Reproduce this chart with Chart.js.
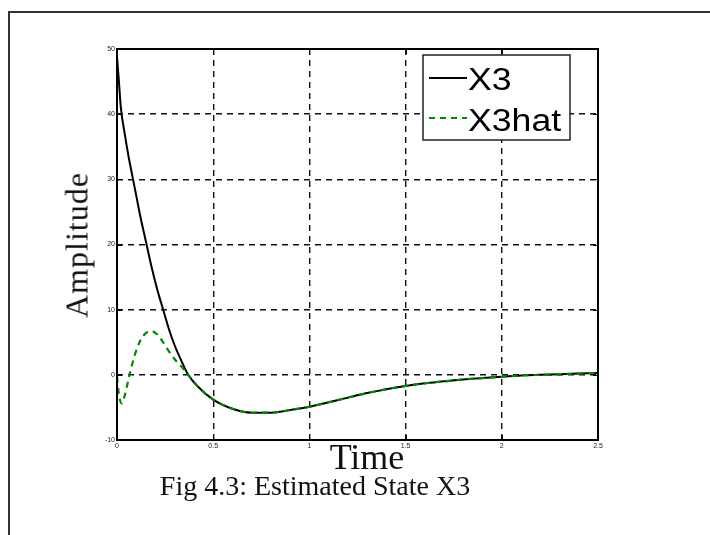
<!DOCTYPE html>
<html>
<head>
<meta charset="utf-8">
<script src="https://cdn.jsdelivr.net/npm/chart.js@4/dist/chart.umd.min.js"></script>
<style>
  html, body { margin: 0; padding: 0; background: #fff; }
  #wrap { position: relative; width: 710px; height: 535px; overflow: hidden; background: #fff; }
  #frame { position: absolute; left: 8px; top: 11px; width: 720px; height: 540px;
           border-left: 2px solid #333; border-top: 2px solid #333; }
  canvas { position: absolute; left: 0; top: 0; }
  .txt { position: absolute; font-family: "Liberation Serif", "Times New Roman", serif; color: #111; white-space: nowrap; }
  #ylab { font-size: 32px; letter-spacing: 1px; left: 77px; top: 245px; transform: translate(-50%, -50%) rotate(-90deg); }
  #xlab { font-size: 36px; left: 367px; top: 457px; transform: translate(-50%, -50%); }
  #cap { font-size: 28px; left: 315px; top: 486px; transform: translate(-50%, -50%); }
</style>
</head>
<body>
<div id="wrap">
  <div id="frame"></div>
  <canvas id="c" width="710" height="535"></canvas>
  <div class="txt" id="ylab">Amplitude</div>
  <div class="txt" id="xlab">Time</div>
  <div class="txt" id="cap">Fig 4.3: Estimated State X3</div>
</div>
<script>
// ---- data ----
const seriesLabels = ["X3", "X3hat"];
const timeX3 = [0, 0.01, 0.02, 0.04, 0.06, 0.08, 0.1, 0.12, 0.15, 0.18, 0.21, 0.24, 0.27, 0.3, 0.34, 0.37, 0.42, 0.5, 0.6, 0.7, 0.8, 0.9, 1.0, 1.1, 1.2, 1.3, 1.4, 1.5, 1.6, 1.7, 1.8, 1.9, 2.0, 2.1, 2.2, 2.3, 2.4, 2.5];
const valuesX3 = [48.8, 45, 41, 37, 33.5, 30.5, 27.5, 24.5, 20.5, 16.5, 13, 10, 7, 4.5, 1.8, 0, -1.8, -3.8, -5.2, -5.8, -5.8, -5.4, -4.9, -4.2, -3.5, -2.8, -2.2, -1.7, -1.3, -1.0, -0.7, -0.5, -0.3, -0.1, 0.0, 0.1, 0.2, 0.3];
const timeX3hat = [0, 0.01, 0.025, 0.04, 0.065, 0.09, 0.12, 0.15, 0.18, 0.21, 0.24, 0.27, 0.3, 0.34, 0.37, 0.42, 0.5, 0.6, 0.7, 0.8, 0.9, 1.0, 1.1, 1.2, 1.3, 1.4, 1.5, 1.6, 1.7, 1.8, 1.9, 2.0, 2.1, 2.2, 2.3, 2.4, 2.5];
const valuesX3hat = [-0.3, -3, -4.4, -3.2, 0, 2.8, 5.2, 6.4, 6.7, 6.2, 5, 3.6, 2.4, 1.1, 0, -1.8, -3.8, -5.2, -5.8, -5.8, -5.4, -4.9, -4.2, -3.5, -2.8, -2.2, -1.7, -1.3, -1.0, -0.7, -0.5, -0.3, -0.1, 0.0, 0.1, 0.2, 0.3];
const xTicks = [0, 0.5, 1, 1.5, 2, 2.5];
const xTickLabels = ["0", "0.5", "1", "1.5", "2", "2.5"];
const yTicks = [-10, 0, 10, 20, 30, 40, 50];
const yTickLabels = ["-10", "0", "10", "20", "30", "40", "50"];

const toPts = (xs, ys) => xs.map((x, i) => ({ x: x, y: ys[i] }));

// frame + inward ticks + legend
const framePlugin = {
  id: 'framePlugin',
  afterDatasetsDraw(chart) {
    const { ctx, chartArea: a, scales } = chart;
    ctx.save();
    ctx.strokeStyle = '#000';
    ctx.lineWidth = 1;
    ctx.setLineDash([]);
    xTicks.forEach(v => {
      const px = Math.round(scales.x.getPixelForValue(v)) + 0.5;
      ctx.beginPath(); ctx.moveTo(px, a.bottom); ctx.lineTo(px, a.bottom - 5); ctx.stroke();
      ctx.beginPath(); ctx.moveTo(px, a.top); ctx.lineTo(px, a.top + 5); ctx.stroke();
    });
    yTicks.forEach(v => {
      const py = Math.round(scales.y.getPixelForValue(v)) + 0.5;
      ctx.beginPath(); ctx.moveTo(a.left, py); ctx.lineTo(a.left + 5, py); ctx.stroke();
      ctx.beginPath(); ctx.moveTo(a.right, py); ctx.lineTo(a.right - 5, py); ctx.stroke();
    });
    ctx.lineWidth = 2;
    ctx.strokeRect(a.left, a.top, a.right - a.left, a.bottom - a.top);

    // legend box
    const bx = 423, by = 55, bw = 147, bh = 85;
    ctx.fillStyle = '#fff';
    ctx.fillRect(bx, by, bw, bh);
    ctx.lineWidth = 1.5;
    ctx.strokeStyle = '#222';
    ctx.strokeRect(bx, by, bw, bh);
    const ds = chart.data.datasets;
    const rows = [{ y: 78, base: 90 }, { y: 118, base: 131 }];
    ds.forEach((d, i) => {
      ctx.strokeStyle = d.borderColor;
      ctx.lineWidth = 2;
      ctx.setLineDash(d.borderDash || []);
      ctx.beginPath(); ctx.moveTo(429, rows[i].y); ctx.lineTo(467, rows[i].y); ctx.stroke();
      ctx.setLineDash([]);
      ctx.fillStyle = '#000';
      ctx.font = '31px "Liberation Sans", Arial, sans-serif';
      ctx.textBaseline = 'alphabetic';
      ctx.save();
      ctx.translate(468, rows[i].base);
      ctx.scale(1.15, 1);
      ctx.fillText(d.label, 0, 0);
      ctx.restore();
    });
    ctx.restore();
  }
};

new Chart(document.getElementById('c'), {
  type: 'line',
  data: {
    datasets: [
      { label: seriesLabels[0], data: toPts(timeX3, valuesX3), borderColor: '#000', borderWidth: 2,
        pointRadius: 0, cubicInterpolationMode: 'monotone', order: 1 },
      { label: seriesLabels[1], data: toPts(timeX3hat, valuesX3hat), borderColor: '#008a00', borderWidth: 2.2,
        borderDash: [6, 5], pointRadius: 0, cubicInterpolationMode: 'monotone', order: 0 }
    ]
  },
  options: {
    responsive: false,
    animation: false,
    layout: { padding: { left: 105, right: 112, top: 49, bottom: 83 } },
    plugins: { legend: { display: false }, tooltip: { enabled: false } },
    scales: {
      x: {
        type: 'linear', min: 0, max: 2.5,
        afterFit(s) { s.height = 12; },
        afterBuildTicks(s) { s.ticks = xTicks.map(v => ({ value: v })); },
        ticks: { font: { size: 7, family: 'Liberation Sans' }, color: '#222', padding: 2,
                 maxRotation: 0, callback: (v) => xTickLabels[xTicks.indexOf(v)] },
        grid: { color: '#111', lineWidth: 1.4, drawTicks: false },
        border: { display: false, dash: [6, 5] }
      },
      y: {
        type: 'linear', min: -10, max: 50,
        afterFit(s) { s.width = 12; },
        afterBuildTicks(s) { s.ticks = yTicks.map(v => ({ value: v })); },
        ticks: { font: { size: 7, family: 'Liberation Sans' }, color: '#222', padding: 2,
                 callback: (v) => yTickLabels[yTicks.indexOf(v)] },
        grid: { color: '#111', lineWidth: 1.4, drawTicks: false },
        border: { display: false, dash: [6, 5] }
      }
    }
  },
  plugins: [framePlugin]
});
</script>
</body>
</html>
